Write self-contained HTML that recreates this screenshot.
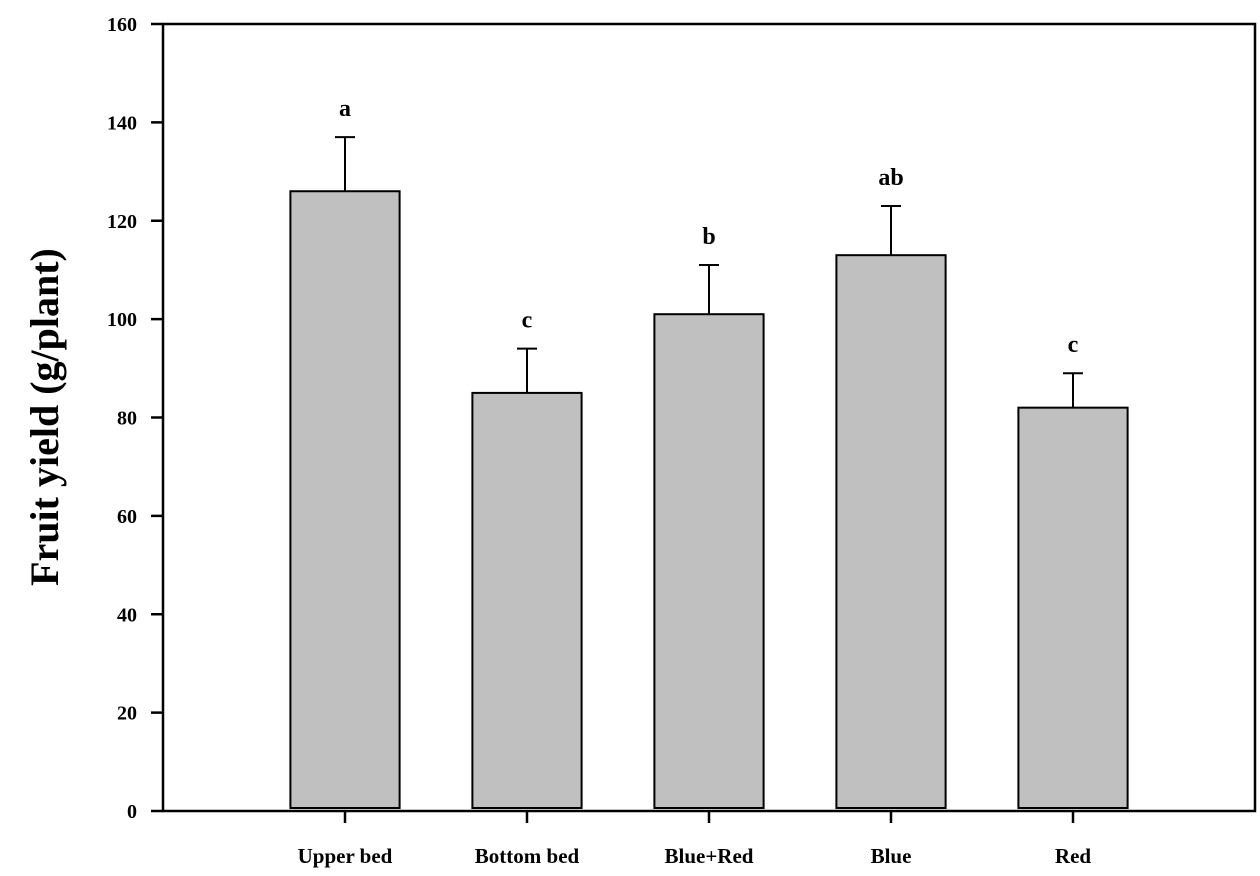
<!DOCTYPE html>
<html><head><meta charset="utf-8"><style>
html,body{margin:0;padding:0;background:#fff}
svg text{font-family:"Liberation Serif",serif;font-weight:bold}
</style></head><body>
<svg id="c" width="1260" height="871" xmlns="http://www.w3.org/2000/svg"></svg>
<script>
const categories=["Upper bed","Bottom bed","Blue+Red","Blue","Red"];
const values=[126,85,101,113,82];
const errors=[11,9,10,10,7];
const letters=["a","c","b","ab","c"];
const yTicks=[0,20,40,60,80,100,120,140,160];
const L=163,R=1255,T=24,B=811;
const y=v=>B-(v/160)*(B-T);
const step=(R-L)/(categories.length+1);
const x=i=>L+step*(i+1);
const bw=step*0.6;
const svg=document.getElementById('c');
const NS="http://www.w3.org/2000/svg";
function mk(t,a,txt){const e=document.createElementNS(NS,t);for(const k in a)e.setAttribute(k,a[k]);if(txt!==undefined)e.textContent=txt;svg.appendChild(e);return e;}
let f=mk('rect',{x:L,y:T,width:R-L,height:B-T,fill:'none',stroke:'#000','stroke-width':2.5});


yTicks.forEach(v=>{
 let t=mk('line',{x1:L-12,x2:L,y1:y(v),y2:y(v),stroke:'#000','stroke-width':2.5});
 
 
 let l=mk('text',{x:L-26,y:y(v)+7,'text-anchor':'end','font-size':20},String(v));
 
 
});
categories.forEach((c,i)=>{
 const cx=x(i);
 let e=mk('line',{x1:cx,x2:cx,y1:y(values[i]),y2:y(values[i]+errors[i]),stroke:'#000','stroke-width':2});
 
 
 let cap=mk('line',{x1:cx-10,x2:cx+10,y1:y(values[i]+errors[i]),y2:y(values[i]+errors[i]),stroke:'#000','stroke-width':2});
 
 
 let b=mk('rect',{x:cx-bw/2,y:y(values[i]),width:bw,height:B-3-y(values[i]),fill:'#c0c0c0',stroke:'#000','stroke-width':2});
 
 
 let tk=mk('line',{x1:cx,x2:cx,y1:B,y2:B+12,stroke:'#000','stroke-width':2.5});
 
 
 let tl=mk('text',{x:cx,y:B+52,'text-anchor':'middle','font-size':21},c);
 
 
 let lt=mk('text',{x:cx,y:y(values[i]+errors[i])-21,'text-anchor':'middle','font-size':24},letters[i]);
 
 
});
let yt=mk('text',{x:0,y:0,'text-anchor':'middle','font-size':40,transform:'translate(58,417) rotate(-90)'},'Fruit yield (g/plant)');


</script>
</body></html>
